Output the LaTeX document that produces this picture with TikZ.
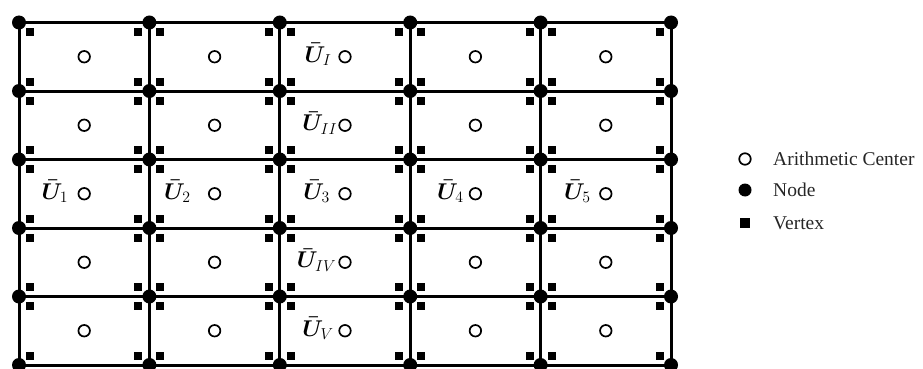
\documentclass[tikz,border=0pt]{standalone}
\usepackage{amsmath,bm}
\usepackage[no-math]{fontspec}
\newfontfamily\legendfont{Liberation Serif}
\begin{document}
\begin{tikzpicture}[x=1pt,y=-1pt,
  gridline/.style={line width=3pt},
  nodedot/.style={circle,fill=black,inner sep=0pt,minimum size=14pt},
  vertexbox/.style={rectangle,fill=black,inner sep=0pt,minimum size=8pt},
  centerring/.style={circle,draw=black,line width=1.7pt,inner sep=0pt,minimum size=11.5pt},
  ulabel/.style={anchor=base west,inner sep=0pt,scale=1.1,font=\fontsize{20.74}{25}\selectfont},
  legendtext/.style={anchor=west,inner sep=0pt,text=black!85,font=\legendfont\fontsize{19.5}{23}\selectfont}
]
\useasboundingbox (0,0) rectangle (923,369);
\clip (0,0) rectangle (923,369);
% grid points
\foreach \i in {0,...,5}{
  \foreach \j in {0,...,5}{
    \coordinate (p-\i-\j) at ({19+130.4*\i},{22.5+68.5*\j});
  }
}
% grid lines
\foreach \j in {0,...,5}{ \draw[gridline] (p-0-\j) -- (p-5-\j); }
\foreach \i in {0,...,5}{ \draw[gridline] (p-\i-0) -- (p-\i-5); }
% nodes
\foreach \i in {0,...,5}{
  \foreach \j in {0,...,5}{
    \node[nodedot] (n-\i-\j) at (p-\i-\j) {};
  }
}
% cells: vertices and centres
\foreach \i [evaluate=\i as \ii using int(\i+1)] in {0,...,4}{
  \foreach \j [evaluate=\j as \jj using int(\j+1)] in {0,...,4}{
    \node[vertexbox] (v-\i-\j-a) at ([shift={(11,9.5)}]p-\i-\j) {};
    \node[vertexbox] (v-\i-\j-b) at ([shift={(-11,9.5)}]p-\ii-\j) {};
    \node[vertexbox] (v-\i-\j-c) at ([shift={(11,-9.5)}]p-\i-\jj) {};
    \node[vertexbox] (v-\i-\j-d) at ([shift={(-11,-9.5)}]p-\ii-\jj) {};
    \node[centerring] (c-\i-\j) at ({19+130.4*(\i+0.5)},{22.5+68.5*(\j+0.5)}) {};
  }
}
% labels
\foreach \i/\s/\dx in {0/1/-39,1/2/-46,2/3/-38,3/4/-35,4/5/-38}{
  \node[ulabel,xshift=\dx pt,yshift=-5pt] (lab-\i-2) at (c-\i-2.center) {$\bm{\bar{U}}_{\s}$};
}
\foreach \j/\s/\dx in {0/I/-37,1/II/-39,3/IV/-44,4/V/-39}{
  \node[ulabel,xshift=\dx pt,yshift=-5pt] (lab-2-\j) at (c-2-\j.center) {$\bm{\bar{U}}_{\s}$};
}
% legend
\node[centerring] (lg-c) at (745,159) {};
\node[legendtext] (lg-ct) at ([xshift=28pt]lg-c.center) {Arithmetic Center};
\node[nodedot,minimum size=13pt] (lg-n) at (745,190) {};
\node[legendtext] (lg-nt) at ([xshift=28pt]lg-n.center) {Node};
\node[vertexbox,minimum size=10pt] (lg-v) at (745,223) {};
\node[legendtext] (lg-vt) at ([xshift=28pt]lg-v.center) {Vertex};
\end{tikzpicture}
\end{document}
